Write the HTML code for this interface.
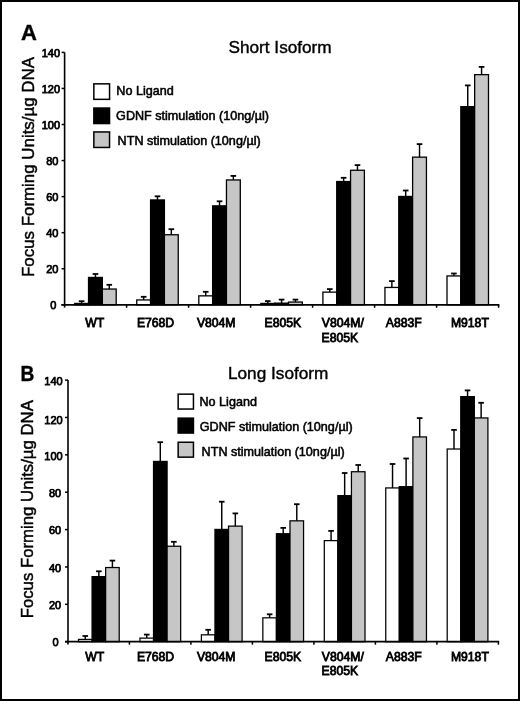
<!DOCTYPE html>
<html><head><meta charset="utf-8"><style>
html,body{margin:0;padding:0;background:#fff;}
svg{display:block;will-change:transform;}
text{font-family:"Liberation Sans", sans-serif;fill:#000;}
.tl{font-size:11px;font-weight:400;text-anchor:end;stroke:#000;stroke-width:0.75px;}
.xl{font-size:12.2px;font-weight:400;stroke:#000;stroke-width:0.8px;}
.lg{font-size:12.6px;font-weight:400;stroke:#000;stroke-width:0.55px;}
.ti{font-size:17.2px;stroke:#000;stroke-width:0.4px;}
.pn{font-size:22px;font-weight:700;stroke:#000;stroke-width:0.4px;}
.yt{font-size:16.9px;stroke:#000;stroke-width:0.45px;}
</style></head>
<body><svg width="520" height="701" viewBox="0 0 520 701">
<rect x="0" y="0" width="520" height="701" fill="#fff"/>
<line x1="81.62" y1="303.8" x2="81.62" y2="301.2" stroke="#000" stroke-width="1.45"/>
<line x1="78.82" y1="301.2" x2="84.42" y2="301.2" stroke="#000" stroke-width="1.8"/>
<rect x="74.7" y="303.45" width="13.83" height="1.35" fill="#fff" stroke="#000" stroke-width="1.3"/>
<line x1="95.45" y1="277.8" x2="95.45" y2="274" stroke="#000" stroke-width="1.45"/>
<line x1="92.65" y1="274" x2="98.25" y2="274" stroke="#000" stroke-width="1.8"/>
<rect x="88.53" y="277.45" width="13.83" height="27.35" fill="#000" stroke="#000" stroke-width="1.3"/>
<line x1="109.28" y1="289.4" x2="109.28" y2="284.8" stroke="#000" stroke-width="1.45"/>
<line x1="106.48" y1="284.8" x2="112.08" y2="284.8" stroke="#000" stroke-width="1.8"/>
<rect x="102.36" y="289.05" width="13.83" height="15.75" fill="#c6c6c6" stroke="#000" stroke-width="1.3"/>
<line x1="143.66" y1="300.3" x2="143.66" y2="296.8" stroke="#000" stroke-width="1.45"/>
<line x1="140.86" y1="296.8" x2="146.47" y2="296.8" stroke="#000" stroke-width="1.8"/>
<rect x="136.75" y="299.95" width="13.83" height="4.85" fill="#fff" stroke="#000" stroke-width="1.3"/>
<line x1="157.5" y1="200.3" x2="157.5" y2="196.3" stroke="#000" stroke-width="1.45"/>
<line x1="154.69" y1="196.3" x2="160.3" y2="196.3" stroke="#000" stroke-width="1.8"/>
<rect x="150.58" y="199.95" width="13.83" height="104.85" fill="#000" stroke="#000" stroke-width="1.3"/>
<line x1="171.32" y1="235.1" x2="171.32" y2="229.2" stroke="#000" stroke-width="1.45"/>
<line x1="168.52" y1="229.2" x2="174.12" y2="229.2" stroke="#000" stroke-width="1.8"/>
<rect x="164.41" y="234.75" width="13.83" height="70.05" fill="#c6c6c6" stroke="#000" stroke-width="1.3"/>
<line x1="205.71" y1="296.2" x2="205.71" y2="291.8" stroke="#000" stroke-width="1.45"/>
<line x1="202.91" y1="291.8" x2="208.51" y2="291.8" stroke="#000" stroke-width="1.8"/>
<rect x="198.8" y="295.85" width="13.83" height="8.95" fill="#fff" stroke="#000" stroke-width="1.3"/>
<line x1="219.54" y1="206.2" x2="219.54" y2="201.3" stroke="#000" stroke-width="1.45"/>
<line x1="216.74" y1="201.3" x2="222.34" y2="201.3" stroke="#000" stroke-width="1.8"/>
<rect x="212.63" y="205.85" width="13.83" height="98.95" fill="#000" stroke="#000" stroke-width="1.3"/>
<line x1="233.37" y1="180.3" x2="233.37" y2="175.9" stroke="#000" stroke-width="1.45"/>
<line x1="230.57" y1="175.9" x2="236.17" y2="175.9" stroke="#000" stroke-width="1.8"/>
<rect x="226.46" y="179.95" width="13.83" height="124.85" fill="#c6c6c6" stroke="#000" stroke-width="1.3"/>
<line x1="267.76" y1="303.8" x2="267.76" y2="301.1" stroke="#000" stroke-width="1.45"/>
<line x1="264.96" y1="301.1" x2="270.56" y2="301.1" stroke="#000" stroke-width="1.8"/>
<rect x="260.85" y="303.45" width="13.83" height="1.35" fill="#fff" stroke="#000" stroke-width="1.3"/>
<line x1="281.59" y1="303.5" x2="281.59" y2="299.6" stroke="#000" stroke-width="1.45"/>
<line x1="278.79" y1="299.6" x2="284.39" y2="299.6" stroke="#000" stroke-width="1.8"/>
<rect x="274.68" y="303.15" width="13.83" height="1.65" fill="#000" stroke="#000" stroke-width="1.3"/>
<line x1="295.43" y1="302.4" x2="295.43" y2="299.6" stroke="#000" stroke-width="1.45"/>
<line x1="292.62" y1="299.6" x2="298.23" y2="299.6" stroke="#000" stroke-width="1.8"/>
<rect x="288.51" y="302.05" width="13.83" height="2.75" fill="#c6c6c6" stroke="#000" stroke-width="1.3"/>
<line x1="329.81" y1="292.5" x2="329.81" y2="289.1" stroke="#000" stroke-width="1.45"/>
<line x1="327.01" y1="289.1" x2="332.62" y2="289.1" stroke="#000" stroke-width="1.8"/>
<rect x="322.9" y="292.15" width="13.83" height="12.65" fill="#fff" stroke="#000" stroke-width="1.3"/>
<line x1="343.64" y1="181.9" x2="343.64" y2="177.8" stroke="#000" stroke-width="1.45"/>
<line x1="340.84" y1="177.8" x2="346.44" y2="177.8" stroke="#000" stroke-width="1.8"/>
<rect x="336.73" y="181.55" width="13.83" height="123.25" fill="#000" stroke="#000" stroke-width="1.3"/>
<line x1="357.48" y1="170.6" x2="357.48" y2="165.1" stroke="#000" stroke-width="1.45"/>
<line x1="354.68" y1="165.1" x2="360.28" y2="165.1" stroke="#000" stroke-width="1.8"/>
<rect x="350.56" y="170.25" width="13.83" height="134.55" fill="#c6c6c6" stroke="#000" stroke-width="1.3"/>
<line x1="391.87" y1="287.8" x2="391.87" y2="281.1" stroke="#000" stroke-width="1.45"/>
<line x1="389.06" y1="281.1" x2="394.67" y2="281.1" stroke="#000" stroke-width="1.8"/>
<rect x="384.95" y="287.45" width="13.83" height="17.35" fill="#fff" stroke="#000" stroke-width="1.3"/>
<line x1="405.69" y1="196.8" x2="405.69" y2="190.5" stroke="#000" stroke-width="1.45"/>
<line x1="402.89" y1="190.5" x2="408.5" y2="190.5" stroke="#000" stroke-width="1.8"/>
<rect x="398.78" y="196.45" width="13.83" height="108.35" fill="#000" stroke="#000" stroke-width="1.3"/>
<line x1="419.53" y1="157.5" x2="419.53" y2="144.1" stroke="#000" stroke-width="1.45"/>
<line x1="416.73" y1="144.1" x2="422.33" y2="144.1" stroke="#000" stroke-width="1.8"/>
<rect x="412.61" y="157.15" width="13.83" height="147.65" fill="#c6c6c6" stroke="#000" stroke-width="1.3"/>
<line x1="453.91" y1="276.3" x2="453.91" y2="273.5" stroke="#000" stroke-width="1.45"/>
<line x1="451.11" y1="273.5" x2="456.71" y2="273.5" stroke="#000" stroke-width="1.8"/>
<rect x="447" y="275.95" width="13.83" height="28.85" fill="#fff" stroke="#000" stroke-width="1.3"/>
<line x1="467.74" y1="107" x2="467.74" y2="85.4" stroke="#000" stroke-width="1.45"/>
<line x1="464.94" y1="85.4" x2="470.54" y2="85.4" stroke="#000" stroke-width="1.8"/>
<rect x="460.83" y="106.65" width="13.83" height="198.15" fill="#000" stroke="#000" stroke-width="1.3"/>
<line x1="481.57" y1="75" x2="481.57" y2="66.9" stroke="#000" stroke-width="1.45"/>
<line x1="478.77" y1="66.9" x2="484.38" y2="66.9" stroke="#000" stroke-width="1.8"/>
<rect x="474.66" y="74.65" width="13.83" height="230.15" fill="#c6c6c6" stroke="#000" stroke-width="1.3"/>
<line x1="64.6" y1="52.4" x2="64.6" y2="307.6" stroke="#000" stroke-width="1.6"/>
<line x1="61.6" y1="52.4" x2="64.6" y2="52.4" stroke="#000" stroke-width="1.5"/>
<text x="60.1" y="56.95" class="tl">140</text>
<line x1="61.6" y1="88.46" x2="64.6" y2="88.46" stroke="#000" stroke-width="1.5"/>
<text x="60.1" y="93.2" class="tl">120</text>
<line x1="61.6" y1="124.51" x2="64.6" y2="124.51" stroke="#000" stroke-width="1.5"/>
<text x="60.1" y="129.45" class="tl">100</text>
<line x1="61.6" y1="160.57" x2="64.6" y2="160.57" stroke="#000" stroke-width="1.5"/>
<text x="58.4" y="164.65" class="tl">80</text>
<line x1="61.6" y1="196.63" x2="64.6" y2="196.63" stroke="#000" stroke-width="1.5"/>
<text x="58.4" y="200.55" class="tl">60</text>
<line x1="61.6" y1="232.69" x2="64.6" y2="232.69" stroke="#000" stroke-width="1.5"/>
<text x="58.4" y="237.35" class="tl">40</text>
<line x1="61.6" y1="268.74" x2="64.6" y2="268.74" stroke="#000" stroke-width="1.5"/>
<text x="58.4" y="272.65" class="tl">20</text>
<line x1="61.6" y1="304.8" x2="64.6" y2="304.8" stroke="#000" stroke-width="1.5"/>
<text x="56.3" y="308.75" class="tl">0</text>
<line x1="61.3" y1="304.8" x2="499.35" y2="304.8" stroke="#000" stroke-width="1.8"/>
<line x1="126.6" y1="304.8" x2="126.6" y2="307.8" stroke="#000" stroke-width="1.5"/>
<line x1="188.6" y1="304.8" x2="188.6" y2="307.8" stroke="#000" stroke-width="1.5"/>
<line x1="250.6" y1="304.8" x2="250.6" y2="307.8" stroke="#000" stroke-width="1.5"/>
<line x1="312.6" y1="304.8" x2="312.6" y2="307.8" stroke="#000" stroke-width="1.5"/>
<line x1="374.6" y1="304.8" x2="374.6" y2="307.8" stroke="#000" stroke-width="1.5"/>
<line x1="436.6" y1="304.8" x2="436.6" y2="307.8" stroke="#000" stroke-width="1.5"/>
<line x1="498.6" y1="304.8" x2="498.6" y2="307.8" stroke="#000" stroke-width="1.5"/>
<text x="85.3" y="327.3" class="xl">WT</text>
<text x="136.9" y="327.3" class="xl">E768D</text>
<text x="196.9" y="327.3" class="xl">V804M</text>
<text x="264.5" y="327.3" class="xl">E805K</text>
<text x="321.8" y="327.3" class="xl">V804M/</text>
<text x="385.8" y="327.3" class="xl">A883F</text>
<text x="450.9" y="327.3" class="xl">M918T</text>
<text x="321.5" y="341.6" class="xl">E805K</text>
<rect x="93.85" y="83.85" width="15.7" height="15.5" fill="#fff" stroke="#000" stroke-width="1.5"/>
<text x="116.3" y="95.4" class="lg">No Ligand</text>
<rect x="93.85" y="108.05" width="15.7" height="15.5" fill="#000" stroke="#000" stroke-width="1.5"/>
<text x="116.1" y="119.7" class="lg">GDNF stimulation (10ng/µl)</text>
<rect x="93.85" y="131.95" width="15.7" height="15.5" fill="#c6c6c6" stroke="#000" stroke-width="1.5"/>
<text x="117.6" y="144.7" class="lg">NTN stimulation (10ng/µl)</text>
<text x="228.5" y="53" class="ti">Short Isoform</text>
<text transform="translate(21,40.4) scale(1.0,1)" x="0" y="0" class="pn">A</text>
<text transform="translate(34.2,277) rotate(-90)" x="0" y="0" class="yt" style="font-size:16.9px">Focus Forming Units/µg DNA</text>
<line x1="85.28" y1="639.8" x2="85.28" y2="636" stroke="#000" stroke-width="1.45"/>
<line x1="82.48" y1="636" x2="88.08" y2="636" stroke="#000" stroke-width="1.8"/>
<rect x="78.5" y="639.42" width="13.57" height="2.28" fill="#fff" stroke="#000" stroke-width="1.25"/>
<line x1="98.85" y1="577" x2="98.85" y2="571.3" stroke="#000" stroke-width="1.45"/>
<line x1="96.05" y1="571.3" x2="101.65" y2="571.3" stroke="#000" stroke-width="1.8"/>
<rect x="92.07" y="576.62" width="13.57" height="65.08" fill="#000" stroke="#000" stroke-width="1.25"/>
<line x1="112.42" y1="567.9" x2="112.42" y2="560.6" stroke="#000" stroke-width="1.45"/>
<line x1="109.62" y1="560.6" x2="115.22" y2="560.6" stroke="#000" stroke-width="1.8"/>
<rect x="105.64" y="567.52" width="13.57" height="74.18" fill="#c6c6c6" stroke="#000" stroke-width="1.25"/>
<line x1="146.73" y1="638.5" x2="146.73" y2="634.6" stroke="#000" stroke-width="1.45"/>
<line x1="143.93" y1="634.6" x2="149.53" y2="634.6" stroke="#000" stroke-width="1.8"/>
<rect x="139.95" y="638.12" width="13.57" height="3.58" fill="#fff" stroke="#000" stroke-width="1.25"/>
<line x1="160.3" y1="461.8" x2="160.3" y2="442.2" stroke="#000" stroke-width="1.45"/>
<line x1="157.5" y1="442.2" x2="163.1" y2="442.2" stroke="#000" stroke-width="1.8"/>
<rect x="153.52" y="461.43" width="13.57" height="180.28" fill="#000" stroke="#000" stroke-width="1.25"/>
<line x1="173.87" y1="546.6" x2="173.87" y2="541.8" stroke="#000" stroke-width="1.45"/>
<line x1="171.07" y1="541.8" x2="176.67" y2="541.8" stroke="#000" stroke-width="1.8"/>
<rect x="167.09" y="546.23" width="13.57" height="95.48" fill="#c6c6c6" stroke="#000" stroke-width="1.25"/>
<line x1="208.19" y1="635.2" x2="208.19" y2="629.8" stroke="#000" stroke-width="1.45"/>
<line x1="205.38" y1="629.8" x2="210.99" y2="629.8" stroke="#000" stroke-width="1.8"/>
<rect x="201.4" y="634.83" width="13.57" height="6.88" fill="#fff" stroke="#000" stroke-width="1.25"/>
<line x1="221.75" y1="529.8" x2="221.75" y2="501.7" stroke="#000" stroke-width="1.45"/>
<line x1="218.95" y1="501.7" x2="224.56" y2="501.7" stroke="#000" stroke-width="1.8"/>
<rect x="214.97" y="529.42" width="13.57" height="112.28" fill="#000" stroke="#000" stroke-width="1.25"/>
<line x1="235.33" y1="526.5" x2="235.33" y2="513.4" stroke="#000" stroke-width="1.45"/>
<line x1="232.53" y1="513.4" x2="238.13" y2="513.4" stroke="#000" stroke-width="1.8"/>
<rect x="228.54" y="526.12" width="13.57" height="115.58" fill="#c6c6c6" stroke="#000" stroke-width="1.25"/>
<line x1="269.64" y1="618.2" x2="269.64" y2="614.3" stroke="#000" stroke-width="1.45"/>
<line x1="266.84" y1="614.3" x2="272.44" y2="614.3" stroke="#000" stroke-width="1.8"/>
<rect x="262.85" y="617.83" width="13.57" height="23.88" fill="#fff" stroke="#000" stroke-width="1.25"/>
<line x1="283.21" y1="534.1" x2="283.21" y2="527.9" stroke="#000" stroke-width="1.45"/>
<line x1="280.41" y1="527.9" x2="286.01" y2="527.9" stroke="#000" stroke-width="1.8"/>
<rect x="276.42" y="533.73" width="13.57" height="107.98" fill="#000" stroke="#000" stroke-width="1.25"/>
<line x1="296.78" y1="521.2" x2="296.78" y2="504.2" stroke="#000" stroke-width="1.45"/>
<line x1="293.98" y1="504.2" x2="299.58" y2="504.2" stroke="#000" stroke-width="1.8"/>
<rect x="289.99" y="520.83" width="13.57" height="120.88" fill="#c6c6c6" stroke="#000" stroke-width="1.25"/>
<line x1="331.09" y1="541" x2="331.09" y2="530.9" stroke="#000" stroke-width="1.45"/>
<line x1="328.29" y1="530.9" x2="333.89" y2="530.9" stroke="#000" stroke-width="1.8"/>
<rect x="324.3" y="540.62" width="13.57" height="101.08" fill="#fff" stroke="#000" stroke-width="1.25"/>
<line x1="344.66" y1="496" x2="344.66" y2="473" stroke="#000" stroke-width="1.45"/>
<line x1="341.86" y1="473" x2="347.46" y2="473" stroke="#000" stroke-width="1.8"/>
<rect x="337.87" y="495.62" width="13.57" height="146.08" fill="#000" stroke="#000" stroke-width="1.25"/>
<line x1="358.23" y1="472.1" x2="358.23" y2="465" stroke="#000" stroke-width="1.45"/>
<line x1="355.43" y1="465" x2="361.03" y2="465" stroke="#000" stroke-width="1.8"/>
<rect x="351.44" y="471.73" width="13.57" height="169.98" fill="#c6c6c6" stroke="#000" stroke-width="1.25"/>
<line x1="392.54" y1="488.3" x2="392.54" y2="464" stroke="#000" stroke-width="1.45"/>
<line x1="389.74" y1="464" x2="395.34" y2="464" stroke="#000" stroke-width="1.8"/>
<rect x="385.75" y="487.93" width="13.57" height="153.78" fill="#fff" stroke="#000" stroke-width="1.25"/>
<line x1="406.11" y1="487" x2="406.11" y2="458.5" stroke="#000" stroke-width="1.45"/>
<line x1="403.31" y1="458.5" x2="408.91" y2="458.5" stroke="#000" stroke-width="1.8"/>
<rect x="399.32" y="486.62" width="13.57" height="155.08" fill="#000" stroke="#000" stroke-width="1.25"/>
<line x1="419.68" y1="437.3" x2="419.68" y2="418.1" stroke="#000" stroke-width="1.45"/>
<line x1="416.88" y1="418.1" x2="422.48" y2="418.1" stroke="#000" stroke-width="1.8"/>
<rect x="412.89" y="436.93" width="13.57" height="204.78" fill="#c6c6c6" stroke="#000" stroke-width="1.25"/>
<line x1="453.99" y1="449.4" x2="453.99" y2="429.9" stroke="#000" stroke-width="1.45"/>
<line x1="451.19" y1="429.9" x2="456.79" y2="429.9" stroke="#000" stroke-width="1.8"/>
<rect x="447.2" y="449.02" width="13.57" height="192.68" fill="#fff" stroke="#000" stroke-width="1.25"/>
<line x1="467.56" y1="397" x2="467.56" y2="390.4" stroke="#000" stroke-width="1.45"/>
<line x1="464.76" y1="390.4" x2="470.36" y2="390.4" stroke="#000" stroke-width="1.8"/>
<rect x="460.77" y="396.62" width="13.57" height="245.08" fill="#000" stroke="#000" stroke-width="1.25"/>
<line x1="481.13" y1="418.3" x2="481.13" y2="402.8" stroke="#000" stroke-width="1.45"/>
<line x1="478.33" y1="402.8" x2="483.93" y2="402.8" stroke="#000" stroke-width="1.8"/>
<rect x="474.34" y="417.93" width="13.57" height="223.78" fill="#c6c6c6" stroke="#000" stroke-width="1.25"/>
<line x1="68" y1="380.1" x2="68" y2="644.5" stroke="#000" stroke-width="1.6"/>
<line x1="65" y1="380.1" x2="68" y2="380.1" stroke="#000" stroke-width="1.5"/>
<text x="62.7" y="384.55" class="tl">140</text>
<line x1="65" y1="417.47" x2="68" y2="417.47" stroke="#000" stroke-width="1.5"/>
<text x="62.7" y="423.55" class="tl">120</text>
<line x1="65" y1="454.84" x2="68" y2="454.84" stroke="#000" stroke-width="1.5"/>
<text x="62.7" y="459.55" class="tl">100</text>
<line x1="65" y1="492.21" x2="68" y2="492.21" stroke="#000" stroke-width="1.5"/>
<text x="61.2" y="496.95" class="tl">80</text>
<line x1="65" y1="529.59" x2="68" y2="529.59" stroke="#000" stroke-width="1.5"/>
<text x="61.2" y="533.95" class="tl">60</text>
<line x1="65" y1="566.96" x2="68" y2="566.96" stroke="#000" stroke-width="1.5"/>
<text x="61.2" y="571.75" class="tl">40</text>
<line x1="65" y1="604.33" x2="68" y2="604.33" stroke="#000" stroke-width="1.5"/>
<text x="61.2" y="608.95" class="tl">20</text>
<line x1="65" y1="641.7" x2="68" y2="641.7" stroke="#000" stroke-width="1.5"/>
<text x="58.6" y="646.45" class="tl">0</text>
<line x1="65.1" y1="641.7" x2="499.15" y2="641.7" stroke="#000" stroke-width="1.8"/>
<line x1="129.4" y1="641.7" x2="129.4" y2="644.7" stroke="#000" stroke-width="1.5"/>
<line x1="190.9" y1="641.7" x2="190.9" y2="644.7" stroke="#000" stroke-width="1.5"/>
<line x1="252.4" y1="641.7" x2="252.4" y2="644.7" stroke="#000" stroke-width="1.5"/>
<line x1="313.9" y1="641.7" x2="313.9" y2="644.7" stroke="#000" stroke-width="1.5"/>
<line x1="375.4" y1="641.7" x2="375.4" y2="644.7" stroke="#000" stroke-width="1.5"/>
<line x1="436.9" y1="641.7" x2="436.9" y2="644.7" stroke="#000" stroke-width="1.5"/>
<line x1="498.4" y1="641.7" x2="498.4" y2="644.7" stroke="#000" stroke-width="1.5"/>
<text x="85.3" y="660.6" class="xl">WT</text>
<text x="136.9" y="660.6" class="xl">E768D</text>
<text x="196.9" y="660.6" class="xl">V804M</text>
<text x="264.5" y="660.6" class="xl">E805K</text>
<text x="321.8" y="660.6" class="xl">V804M/</text>
<text x="385.8" y="660.6" class="xl">A883F</text>
<text x="450.9" y="660.6" class="xl">M918T</text>
<text x="321.5" y="675.1" class="xl">E805K</text>
<rect x="178.15" y="394.15" width="15.3" height="14.9" fill="#fff" stroke="#000" stroke-width="1.5"/>
<text x="199.5" y="406" class="lg">No Ligand</text>
<rect x="178.15" y="418.15" width="15.3" height="14.9" fill="#000" stroke="#000" stroke-width="1.5"/>
<text x="199.8" y="431.1" class="lg">GDNF stimulation (10ng/µl)</text>
<rect x="178.15" y="442.25" width="15.3" height="14.9" fill="#c6c6c6" stroke="#000" stroke-width="1.5"/>
<text x="201.6" y="455.6" class="lg">NTN stimulation (10ng/µl)</text>
<text x="228" y="378.5" class="ti">Long Isoform</text>
<text transform="translate(20.6,380.8) scale(0.87,1)" x="0" y="0" class="pn">B</text>
<text transform="translate(33,618.3) rotate(-90)" x="0" y="0" class="yt" style="font-size:16.75px">Focus Forming Units/µg DNA</text>
<rect x="1" y="1" width="518" height="699" fill="none" stroke="#000" stroke-width="2"/>
</svg></body></html>
